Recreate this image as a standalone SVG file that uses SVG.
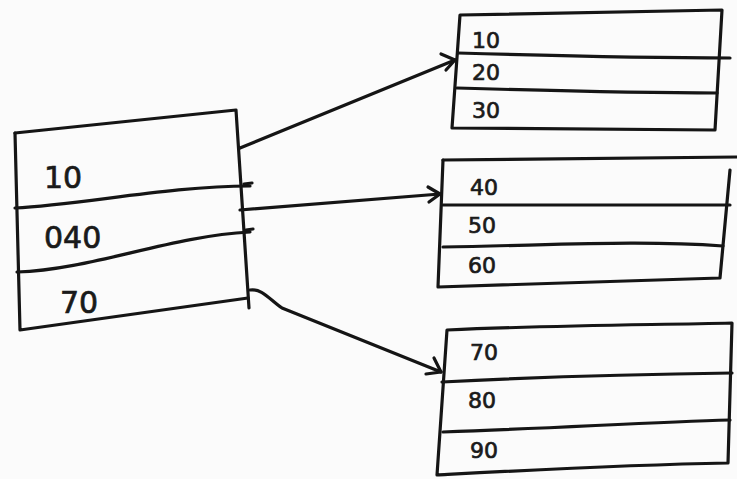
<svg xmlns="http://www.w3.org/2000/svg" width="737" height="479" viewBox="0 0 737 479">
<style>
.ln{fill:none;stroke:#151515;stroke-width:3.2;stroke-linecap:round;stroke-linejoin:round}
.t{font-family:"DejaVu Sans","Liberation Sans",sans-serif;fill:#1a1a1a;stroke:#1a1a1a;stroke-width:0.7}
.big{font-size:30px}
.sm{font-size:22px}
</style>
<rect width="737" height="479" fill="#fbfbfb"/>
<g id="left-box">
<path class="ln" d="M15,133 L236,110 L249,308"/>
<path class="ln" d="M15,133 L20,330 L248,298"/>
<path class="ln" d="M15,208 C80,205 170,186 250,186"/>
<path class="ln" d="M17,272 C90,270 170,236 250,232"/>
<text class="t big" x="44" y="188">10</text>
<text class="t big" x="44" y="248">040</text>
<text class="t big" x="60" y="313">70</text>
</g>
<g id="box-1">
<path class="ln" d="M460,15 L722,10 L715,130 L452,128 Z"/>
<path class="ln" d="M458,53 C560,56 650,58 730,58"/>
<path class="ln" d="M457,88 C560,91 650,93 717,93"/>
<text class="t sm" x="472" y="48">10</text>
<text class="t sm" x="472" y="80">20</text>
<text class="t sm" x="472" y="118">30</text>
</g>
<g id="box-2">
<path class="ln" d="M443,160 L737,157"/>
<path class="ln" d="M443,160 L438,287 L720,278 L730,170"/>
<path class="ln" d="M443,205 C560,205 650,205 730,205"/>
<path class="ln" d="M443,247 C560,245 640,240 723,246"/>
<text class="t sm" x="470" y="195">40</text>
<text class="t sm" x="468" y="233">50</text>
<text class="t sm" x="468" y="273">60</text>
</g>
<g id="box-3">
<path class="ln" d="M447,330 C560,325 650,325 732,323 L728,463 C620,465 530,470 437,475 Z"/>
<path class="ln" d="M442,382 C560,376 650,374 732,373"/>
<path class="ln" d="M443,432 C560,428 650,422 730,420"/>
<text class="t sm" x="470" y="360">70</text>
<text class="t sm" x="468" y="408">80</text>
<text class="t sm" x="470" y="458">90</text>
</g>
<g id="connectors">
<path class="ln" d="M240,148 L455,60"/>
<path class="ln" d="M441,54 L455,60 L446,70"/>
<path class="ln" d="M240,210 L440,194"/>
<path class="ln" d="M428,187 L440,194 L429,202"/>
<path class="ln" d="M250,290 C262,288 270,300 282,308 L441,372"/>
<path class="ln" d="M434,358 L441,372 L426,374"/>
<path class="ln" d="M244,184 L252,183"/>
<path class="ln" d="M246,230 L253,229"/>
</g>
</svg>
